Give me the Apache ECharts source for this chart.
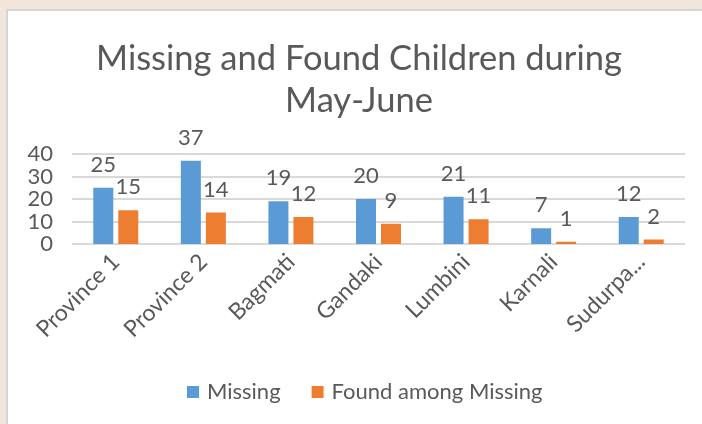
<!DOCTYPE html>
<html>
<head>
<meta charset="utf-8">
<script src="https://cdn.jsdelivr.net/npm/echarts@6/dist/echarts.min.js"></script>
<style>
  html, body { margin: 0; padding: 0; background: #f1e5dc; }
  #chart { width: 702px; height: 424px; }
</style>
</head>
<body>
<div id="chart"></div>
<script>
// data
const provinces = ['Province 1', 'Province 2', 'Bagmati', 'Gandaki', 'Lumbini', 'Karnali', 'Sudurpa...']
const missing = [25, 37, 19, 20, 21, 7, 12]
const foundAmongMissing = [15, 14, 12, 9, 11, 1, 2]

const TEXT = '#595959'
const FONT = 'Lato'

const chart = echarts.init(document.getElementById('chart'))

const labelStyle = {
  show: true,
  position: 'top',
  distance: 12,
  color: TEXT,
  fontSize: 22,
  fontFamily: FONT
}

chart.setOption({
  backgroundColor: '#f1e5dc',
  animation: false,
  textStyle: { fontFamily: FONT, color: TEXT },
  graphic: [
    {
      type: 'rect',
      z: -10,
      shape: { x: 7, y: 10, width: 702, height: 420 },
      style: { fill: '#ffffff', stroke: '#d6d6d6', lineWidth: 2 }
    }
  ],
  title: {
    text: 'Missing and Found Children during\nMay-June',
    left: 354,
    textAlign: 'center',
    top: 33,
    textStyle: {
      color: TEXT,
      fontSize: 34.5,
      fontWeight: 'normal',
      fontFamily: FONT,
      lineHeight: 42
    }
  },
  legend: {
    data: ['Missing', 'Found among Missing'],
    bottom: 16,
    left: 182,
    itemWidth: 12,
    itemHeight: 12,
    itemGap: 31,
    icon: 'rect',
    textStyle: { color: TEXT, fontSize: 22, fontFamily: FONT, padding: [0, 0, 0, 3] }
  },
  grid: {
    left: 72,
    right: 17,
    top: 154,
    bottom: 180,
    containLabel: false
  },
  xAxis: {
    type: 'category',
    data: provinces,
    axisLine: { show: false },
    axisTick: { show: false },
    axisLabel: {
      color: TEXT,
      fontSize: 23,
      fontFamily: FONT,
      rotate: 45,
      margin: 14,
      interval: 0
    }
  },
  yAxis: {
    type: 'value',
    min: 0,
    max: 40,
    interval: 10,
    axisLine: { show: false },
    axisTick: { show: false },
    axisLabel: { color: TEXT, fontSize: 22, fontFamily: FONT, margin: 19 },
    splitLine: { lineStyle: { color: '#d9d9d9', width: 2 } }
  },
  series: [
    {
      name: 'Missing',
      type: 'bar',
      data: missing,
      barWidth: 20,
      barGap: '25%',
      itemStyle: { color: '#5b9bd5' },
      label: labelStyle
    },
    {
      name: 'Found among Missing',
      type: 'bar',
      data: foundAmongMissing,
      barWidth: 20,
      itemStyle: { color: '#ed7d31' },
      label: labelStyle
    }
  ]
})
</script>
</body>
</html>
